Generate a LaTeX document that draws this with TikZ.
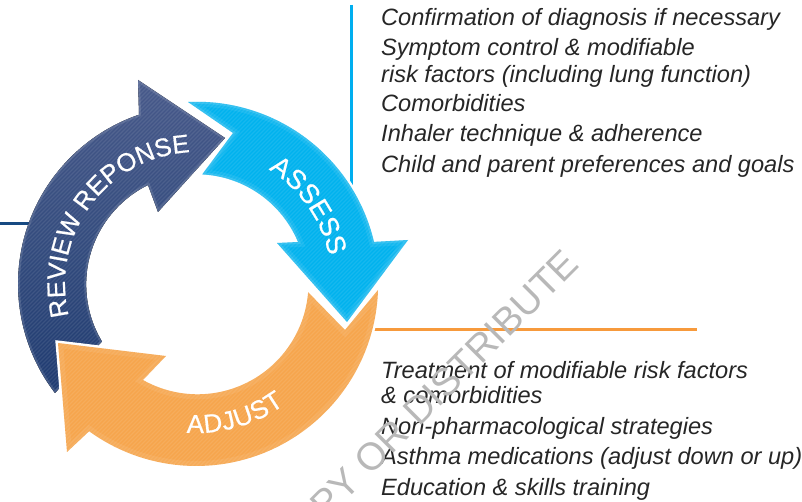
\documentclass[tikz,border=0pt]{standalone}
\usepackage{fontspec}
\setmainfont{Liberation Sans}
\newfontfamily\ringfont[FakeBold=0.6]{Liberation Sans}
\usetikzlibrary{decorations.text}
\definecolor{navyA}{HTML}{344C7E}
\definecolor{navyB}{HTML}{47598A}
\definecolor{navyC}{HTML}{1E3A70}
\definecolor{skyA}{HTML}{00B2EE}
\definecolor{orA}{HTML}{F6A54C}
\definecolor{lineBlue}{HTML}{00AEEF}
\definecolor{lineOr}{HTML}{F79A3C}
\definecolor{lineNavy}{HTML}{174A82}
\definecolor{bodyText}{HTML}{262626}
\definecolor{markGray}{HTML}{B8B8B8}
\tikzset{
  x=1pt,y=1pt,
  rule/.style={line width=3pt},
  bullet/.style={anchor=base west,inner sep=0pt,font=\fontsize{23.6}{23.6}\selectfont\itshape,text=bodyText},
  halo/.style={draw=white,line width=5pt,line join=miter},
  stripes/.style={white,opacity=0.09,line width=1.2pt},
  bevelwide/.style={draw=white,opacity=0.07,line width=10pt},
  bevelthin/.style={draw=white,opacity=0.12,line width=4pt},
}
\newcommand{\ringstripes}{\foreach \k in {-500,-496,...,900}{\draw[stripes] (\k,0) -- ++(502,502);}}
\newcommand{\navyshape}{(55,109) arc[start angle=217.5,end angle=108.9,radius=179] -- (138,422) -- (225,364) -- (158,290) -- (148,317) arc[start angle=116.3,end angle=210.9,radius=111] -- cycle}
\newcommand{\skyshape}{(188,400) arc[start angle=92.8,end angle=13.3,radius=182] -- (408,262) -- (347,180) -- (277,259) -- (298,260) arc[start angle=22.6,end angle=87,radius=110] -- (233,369) -- cycle}
\newcommand{\orshape}{(378,212) arc[start angle=-1.9,end angle=-126,radius=182] -- (67,50) -- (58,159) -- (166,146) -- (143,122) arc[start angle=240.6,end angle=355.4,radius=111] -- (345,172) -- cycle}
\begin{document}
\begin{tikzpicture}
\useasboundingbox (0,0) rectangle (802,502);
\clip (0,0) rectangle (802,502);
\coordinate (ctr) at (197,218);
% rules
\draw[rule,lineBlue] (351,497) coordinate (bt) -- (351,300) coordinate (bb);
\draw[rule,lineOr] (360,172) coordinate (ol) -- (697,172) coordinate (or);
\draw[rule,lineNavy] (0,278) coordinate (nl) -- (40,278) coordinate (nr);
% navy arrow
\fill[top color=navyB,bottom color=navyC,middle color=navyA] \navyshape;
\begin{scope}\clip \navyshape; \draw[bevelthin] \navyshape; \ringstripes\end{scope}
% sky arrow
\draw[halo] \skyshape;
\fill[skyA] \skyshape;
\begin{scope}\clip \skyshape; \draw[bevelwide] \skyshape; \draw[bevelthin] \skyshape; \ringstripes\end{scope}
% orange arrow
\draw[halo] \orshape;
\fill[orA] \orshape;
\begin{scope}\clip \orshape; \draw[bevelwide] \orshape; \ringstripes\end{scope}
% ring labels
\path[decorate,decoration={text along path,text align={fit to path},text={|\ringfont\fontsize{25.5}{25.5}\selectfont\color{white}|REVIEW REPONSE}}]
  ([shift={(194:132)}]ctr) arc[start angle=194,end angle=93,radius=132];
\path[decorate,decoration={text along path,text align={fit to path},text={|\ringfont\fontsize{27}{27}\selectfont\color{white}|ASSESS}}]
  ([shift={(58:135)}]ctr) arc[start angle=58,end angle=12,radius=135];
\path[decorate,decoration={text along path,text align={fit to path},text={|\ringfont\fontsize{26}{26}\selectfont\color{white}|ADJUST}}]
  ([shift={(266:149)}]ctr) arc[start angle=266,end angle=306,radius=149];
% lists
\node[bullet] (a1) at (381,476) {Confirmation of diagnosis if necessary};
\node[bullet] (a2) at (381,446) {Symptom control \& modifiable};
\node[bullet] (a3) at (381,419) {risk factors (including lung function)};
\node[bullet] (a4) at (381,390) {Comorbidities};
\node[bullet] (a5) at (381,360) {Inhaler technique \& adherence};
\node[bullet] (a6) at (381,329) {Child and parent preferences and goals};
\node[bullet] (b1) at (381,123) {Treatment of modifiable risk factors};
\node[bullet] (b2) at (381,98) {\& comorbidities};
\node[bullet] (b3) at (381,67) {Non-pharmacological strategies};
\node[bullet] (b4) at (381,37) {Asthma medications (adjust down or up)};
\node[bullet] (b5) at (381,6) {Education \& skills training};
% watermark
\node[anchor=base east,rotate=45,inner sep=0pt,text=markGray,font=\fontsize{38.5}{38.5}\selectfont] (wm) at (581,236) {COPY OR DISTRIBUTE};
\end{tikzpicture}
\end{document}
